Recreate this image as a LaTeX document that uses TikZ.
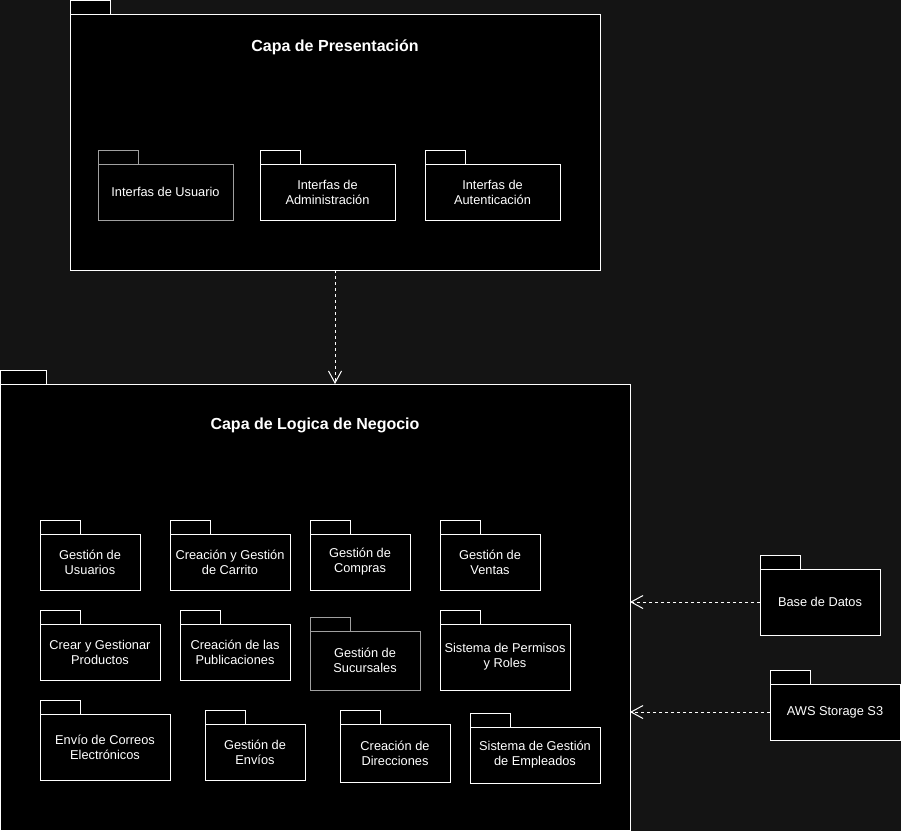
\documentclass[tikz,border=0pt]{standalone}
\usepackage{fontspec}
\setmainfont{Liberation Sans}
\usetikzlibrary{arrows.meta}
\definecolor{bgdark}{RGB}{20,20,20}
\definecolor{pkggray}{RGB}{160,160,160}
\tikzset{
  pkg/.style={draw=white, fill=black, text=white, line width=1pt, align=center,
    anchor=north west, inner sep=0pt, outer sep=0pt, font=\fontsize{12.8}{15}\selectfont},
  tab/.style={fill=black, line width=1pt},
  dep/.style={draw=white, line width=1pt, dash pattern=on 3pt off 3pt,
    -{Straight Barb[length=12pt,width=13pt]}},
  title/.style={text=white, font=\fontsize{16}{19}\selectfont\bfseries}
}
\begin{document}
\begin{tikzpicture}[x=1pt,y=-1pt]
\fill[bgdark] (0,0) rectangle (901,831);
\useasboundingbox (0,0) rectangle (901,831);
\node[pkg, minimum width=530pt, minimum height=256pt] (pres) at (70,14) {};
\draw[tab, draw=white] (pres.north west) rectangle ++(40,-14);
\node[title] (prestitle) at (335,47) {Capa de Presentación};
\node[pkg, minimum width=630pt, minimum height=446pt] (logic) at (0,384) {};
\draw[tab, draw=white] (logic.north west) rectangle ++(46,-14);
\node[title] (logictitle) at (315,425) {Capa de Logica de Negocio};
\foreach \n/\x/\y/\w/\h/\c/\t in {
    iu/98/164/135/56/pkggray/{Interfas de Usuario},
    ia/260/164/135/56/white/{Interfas de\\Administración},
    iaut/425/164/135/56/white/{Interfas de\\Autenticación},
    gu/40/534/100/56/white/{Gestión de\\Usuarios},
    gc/170/534/120/56/white/{Creación y Gestión\\de Carrito},
    gcomp/310/534/100/56/white/{Gestión de\\Compras},
    gv/440/534/100/56/white/{Gestión de\\Ventas},
    gp/40/624/120/56/white/{Crear y Gestionar\\Productos},
    cp/180/624/110/56/white/{Creación de las\\Publicaciones},
    gs/310/631/110/59/pkggray/{Gestión de\\Sucursales},
    spr/440/624/130/66/white/{Sistema de Permisos\\y Roles},
    ec/40/714/130/66/white/{Envío de Correos\\Electrónicos},
    ge/205/724/100/56/white/{Gestión de\\Envíos},
    cd/340/724/110/58/white/{Creación de\\Direcciones},
    sge/470/727/130/56/white/{Sistema de Gestión\\de Empleados},
    db/760/569/120/66/white/{Base de Datos},
    aws/770/684/130/56/white/{AWS Storage S3}} {
  \node[pkg, draw=\c, minimum width=\w pt, minimum height=\h pt] (\n) at (\x,\y) {\t};
  \draw[tab, draw=\c] (\n.north west) rectangle ++(40,-14);
}
\draw[dep] (pres.south) -- (pres.south |- logic.north);
\draw[dep] (db.west) -- (db.west -| logic.east);
\draw[dep] (aws.west) -- (aws.west -| logic.east);
\end{tikzpicture}
\end{document}
